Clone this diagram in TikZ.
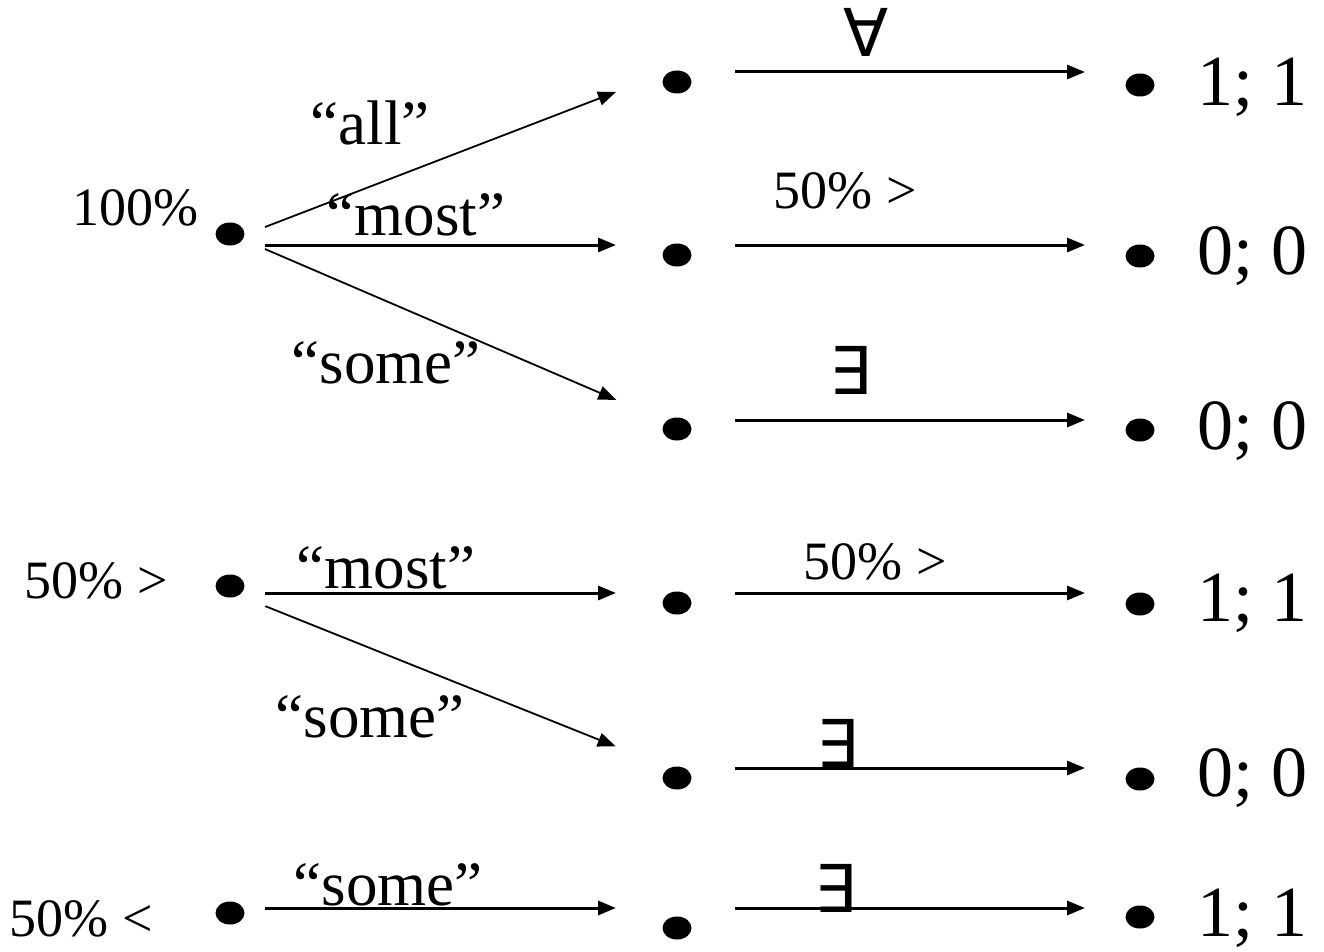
\documentclass[tikz,border=0pt]{standalone}
\usepackage{fontspec}
\setmainfont{Liberation Serif}
\newfontfamily\symf{DejaVu Sans}
\usetikzlibrary{shapes.geometric,arrows.meta}
\tikzset{
  dotn/.style={ellipse,fill=black,minimum width=29pt,minimum height=23pt,inner sep=0pt},
  harr/.style={line width=3pt,-{Triangle[length=18pt,width=14pt]}},
  darr/.style={line width=1.8pt,-{Triangle[length=18pt,width=14pt]}},
  qlab/.style={anchor=base,inner sep=0pt,font=\fontsize{63}{63}\selectfont},
  slab/.style={anchor=base,inner sep=0pt,font=\fontsize{54}{54}\selectfont},
  rlab/.style={anchor=base west,inner sep=0pt,font=\fontsize{72}{72}\selectfont},
  qsym/.style={anchor=base,inner sep=0pt,font=\symf\fontsize{66}{66}\selectfont},
}
\begin{document}
\begin{tikzpicture}[x=1pt,y=-1pt]
\useasboundingbox (0,0) rectangle (1324,952);
% left dots
\node[dotn] (s1) at (230,234) {};
\node[dotn] (s2) at (230,586) {};
\node[dotn] (s3) at (230,913) {};
% middle dots
\node[dotn] (m1) at (677,82) {};
\node[dotn] (m2) at (677,255) {};
\node[dotn] (m3) at (677,429) {};
\node[dotn] (m4) at (677,603) {};
\node[dotn] (m5) at (677,778) {};
\node[dotn] (m6) at (677,928) {};
% right dots
\node[dotn] (r1) at (1140,85) {};
\node[dotn] (r2) at (1140,256) {};
\node[dotn] (r3) at (1140,430) {};
\node[dotn] (r4) at (1140,604) {};
\node[dotn] (r5) at (1140,779) {};
\node[dotn] (r6) at (1140,917) {};
% left arrows
\draw[darr,shorten <=37.5pt,shorten >=65.4pt] ([yshift=-6.5pt]s1.center) -- ([yshift=13.5pt]m1.center);
\draw[harr,shorten <=35pt,shorten >=61pt] ([yshift=-11pt]s1.center) -- ([yshift=10pt]m2.center);
\draw[darr,shorten <=38pt,shorten >=66pt] (s1.center) -- ([yshift=3pt]m3.center);
\draw[harr,shorten <=35pt,shorten >=61pt] ([yshift=-7pt]s2.center) -- ([yshift=10pt]m4.center);
\draw[darr,shorten <=38pt,shorten >=66pt] ([yshift=-6pt]s2.center) -- ([yshift=7pt]m5.center);
\draw[harr,shorten <=35pt,shorten >=61pt] ([yshift=5pt]s3.center) -- ([yshift=20pt]m6.center);
% right arrows
\draw[harr,shorten <=58pt,shorten >=55pt] ([yshift=10pt]m1.center) -- ([yshift=13pt]r1.center);
\draw[harr,shorten <=58pt,shorten >=55pt] ([yshift=10pt]m2.center) -- ([yshift=11pt]r2.center);
\draw[harr,shorten <=58pt,shorten >=55pt] ([yshift=9pt]m3.center) -- ([yshift=10pt]r3.center);
\draw[harr,shorten <=58pt,shorten >=55pt] ([yshift=10pt]m4.center) -- ([yshift=11pt]r4.center);
\draw[harr,shorten <=58pt,shorten >=55pt] ([yshift=10pt]m5.center) -- ([yshift=11pt]r5.center);
\draw[harr,shorten <=58pt,shorten >=55pt] ([yshift=20pt]m6.center) -- ([yshift=9pt]r6.center);
% left labels
\node[slab] (l100) at (135,225) {100\%};
\node[slab] (l50a) at (96,598) {50\% >};
\node[slab] (l50b) at (81,936) {50\% <};
% quoted labels
\node[qlab] (qall) at (370,145) {“all”};
\node[qlab] (qmost1) at (416,235) {“most”};
\node[qlab] (qsome1) at (386,383) {“some”};
\node[qlab] (qmost2) at (386,588) {“most”};
\node[qlab] (qsome2) at (370,737) {“some”};
\node[qlab] (qsome3) at (388,905) {“some”};
% arrow labels on the right
\node[qsym] (fa) at (866,57) {∀};
\node[slab] (p1) at (845,208) {50\% >};
\node[qsym] (ex1) at (850,394) {∃};
\node[slab] (p2) at (875,579) {50\% >};
\node[qsym] (ex2) at (837,767) {∃};
\node[qsym] (ex3) at (835,912) {∃};
% results
\node[rlab] (o1) at (1197,106) {1; 1};
\node[rlab] (o2) at (1197,274) {0; 0};
\node[rlab] (o3) at (1197,449) {0; 0};
\node[rlab] (o4) at (1197,621) {1; 1};
\node[rlab] (o5) at (1197,796) {0; 0};
\node[rlab] (o6) at (1197,936) {1; 1};
\end{tikzpicture}
\end{document}
